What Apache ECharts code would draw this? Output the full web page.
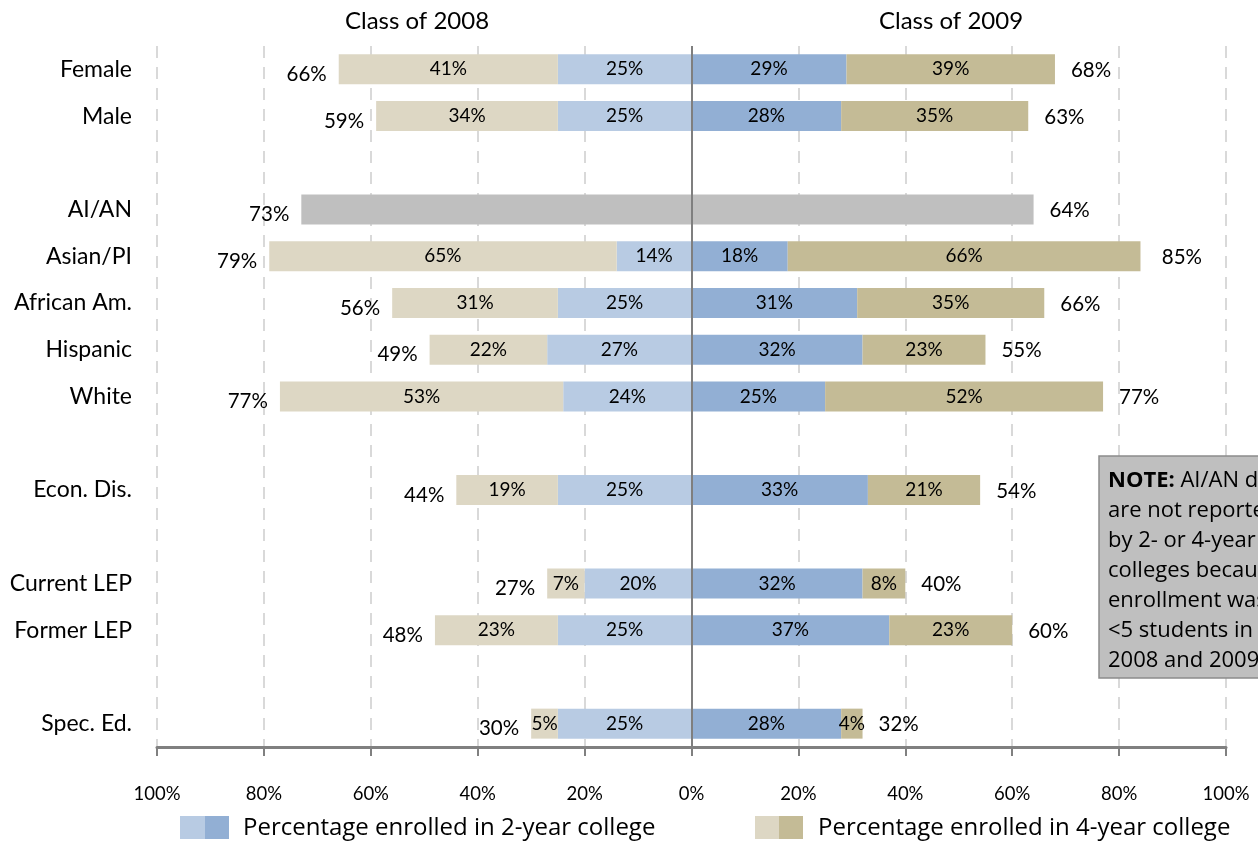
<!DOCTYPE html>
<html>
<head>
<meta charset="utf-8">
<script src="https://cdn.jsdelivr.net/npm/echarts@6/dist/echarts.min.js"></script>
<style>
html,body{margin:0;padding:0;background:#fff;}
#chart{width:1258px;height:842px;}
</style>
</head>
<body>
<div id="chart"></div>
<script>
const categories = ['Female','Male','','AI/AN','Asian/PI','African Am.','Hispanic','White',' ','Econ. Dis.','  ','Current LEP','Former LEP','   ','Spec. Ed.'];
const twoYear2008  = [25, 25, '-', '-', 14, 25, 27, 24, '-', 25, '-', 20, 25, '-', 25];
const fourYear2008 = [41, 34, '-', '-', 65, 31, 22, 53, '-', 19, '-', 7, 23, '-', 5];
const total2008    = [66, 59, '-', 73, 79, 56, 49, 77, '-', 44, '-', 27, 48, '-', 30];
const twoYear2009  = [29, 28, '-', '-', 18, 31, 32, 25, '-', 33, '-', 32, 37, '-', 28];
const fourYear2009 = [39, 35, '-', '-', 66, 35, 23, 52, '-', 21, '-', 8, 23, '-', 4];
const total2009    = [68, 63, '-', 64, 85, 66, 55, 77, '-', 54, '-', 40, 60, '-', 32];
const aian2008     = ['-', '-', '-', 73, '-', '-', '-', '-', '-', '-', '-', '-', '-', '-', '-'];
const aian2009     = ['-', '-', '-', 64, '-', '-', '-', '-', '-', '-', '-', '-', '-', '-', '-'];
const xTicks = [-100, -80, -60, -40, -20, 0, 20, 40, 60, 80, 100];
const legendLabels = ['Percentage enrolled in 2-year college', 'Percentage enrolled in 4-year college'];
const panelTitles = ['Class of 2008', 'Class of 2009'];
const noteLines = ['AI/AN data', 'are not reported', 'by 2- or 4-year', 'colleges because', 'enrollment was', '<5 students in', '2008 and 2009.'];

const FONT = 'Lato, "Open Sans", sans-serif';
const FONT2 = '"Open Sans", Lato, sans-serif';
const neg = a => a.map(v => v === '-' ? '-' : -v);
const inLabel = {
  show: true, position: 'inside', color: '#000', fontSize: 19, fontFamily: FONT,
  formatter: p => Math.abs(p.value) + '%'
};
const BW = 30;

const chart = echarts.init(document.getElementById('chart'));
chart.setOption({
  animation: false,
  backgroundColor: '#fff',
  grid: { left: 157, right: 32, top: 46, bottom: 95 },
  xAxis: {
    type: 'value', min: -100, max: 100, interval: 20,
    axisLine: { show: true, lineStyle: { color: '#808080', width: 3 } },
    axisTick: { show: true, length: 9, lineStyle: { color: '#808080', width: 2 } },
    axisLabel: { margin: 38, color: '#000', fontSize: 18.5, fontFamily: FONT,
      formatter: v => Math.abs(v) + '%' },
    splitLine: { show: true, lineStyle: { color: '#d9d9d9', width: 2, type: [12, 9] } }
  },
  yAxis: {
    type: 'category', data: categories, inverse: true,
    axisLine: { show: false }, axisTick: { show: false },
    axisLabel: { margin: 25, color: '#000', fontSize: 23, fontFamily: FONT }
  },
  series: [
    { name: '2-year 2008', type: 'bar', stack: 't', barWidth: BW, data: neg(twoYear2008),
      itemStyle: { color: '#b8cbe3' }, label: inLabel,
      markLine: { silent: true, symbol: 'none', label: { show: false },
        lineStyle: { color: '#7f7f7f', width: 2, type: 'solid' }, data: [{ xAxis: 0 }] } },
    { name: '4-year 2008', type: 'bar', stack: 't', barWidth: BW, data: neg(fourYear2008),
      itemStyle: { color: '#ddd7c4' }, label: inLabel },
    { name: '2-year 2009', type: 'bar', stack: 't', barWidth: BW, data: twoYear2009,
      itemStyle: { color: '#92afd4' }, label: inLabel },
    { name: '4-year 2009', type: 'bar', stack: 't', barWidth: BW, data: fourYear2009,
      itemStyle: { color: '#c4bb96' }, label: inLabel },
    { name: 'AI/AN 2008', type: 'bar', stack: 't', barWidth: BW, data: neg(aian2008),
      itemStyle: { color: '#bfbfbf' } },
    { name: 'AI/AN 2009', type: 'bar', stack: 't', barWidth: BW, data: aian2009,
      itemStyle: { color: '#bfbfbf' } },
    { name: 'Total 2008', type: 'scatter', symbolSize: 0, itemStyle: { opacity: 1 },
      data: total2008.map((v, i) => v === '-' ? null : [-v, categories[i]]).filter(Boolean),
      label: { show: true, position: 'left', distance: 12, offset: [0, 5], color: '#000',
        fontSize: 20.5, fontFamily: FONT, formatter: p => Math.abs(p.value[0]) + '%' } },
    { name: 'Total 2009', type: 'scatter', symbolSize: 0, itemStyle: { opacity: 1 },
      data: total2009.map((v, i) => v === '-' ? null : [v, categories[i]]).filter(Boolean),
      label: { show: true, position: 'right', distance: 16, offset: [0, 1], color: '#000',
        fontSize: 20.5, fontFamily: FONT, formatter: p => p.value[0] + '%' } }
  ],
  graphic: [
    { type: 'text', x: 417, y: 21, z: 100, style: { text: panelTitles[0], fontSize: 24, fontFamily: FONT, fill: '#000', align: 'center', verticalAlign: 'middle' } },
    { type: 'text', x: 951, y: 21, z: 100, style: { text: panelTitles[1], fontSize: 24, fontFamily: FONT, fill: '#000', align: 'center', verticalAlign: 'middle' } },
    { type: 'rect', z: 100, shape: { x: 180, y: 816, width: 25, height: 23 }, style: { fill: '#b8cbe3' } },
    { type: 'rect', z: 100, shape: { x: 205, y: 816, width: 24, height: 23 }, style: { fill: '#92afd4' } },
    { type: 'text', z: 100, x: 243, y: 828, style: { text: legendLabels[0], fontSize: 24, fontFamily: FONT2, fill: '#000', verticalAlign: 'middle' } },
    { type: 'rect', z: 100, shape: { x: 755, y: 816, width: 24, height: 23 }, style: { fill: '#ddd7c4' } },
    { type: 'rect', z: 100, shape: { x: 779, y: 816, width: 24, height: 23 }, style: { fill: '#c4bb96' } },
    { type: 'text', z: 100, x: 818, y: 828, style: { text: legendLabels[1], fontSize: 24, fontFamily: FONT2, fill: '#000', verticalAlign: 'middle' } },
    { type: 'rect', z: 100, shape: { x: 1099, y: 456, width: 200, height: 222 }, style: { fill: '#bfbfbf', stroke: '#8c8c8c', lineWidth: 1.5 } },
    { type: 'text', z: 101, x: 1108, y: 466, style: {
        text: '{b|NOTE:} ' + noteLines.join('\n'),
        fontSize: 22, fontFamily: FONT2, fill: '#000', lineHeight: 30,
        rich: { b: { fontWeight: 'bold', fontSize: 22, fontFamily: FONT2, lineHeight: 30 } } } }
  ]
});
</script>
</body>
</html>
